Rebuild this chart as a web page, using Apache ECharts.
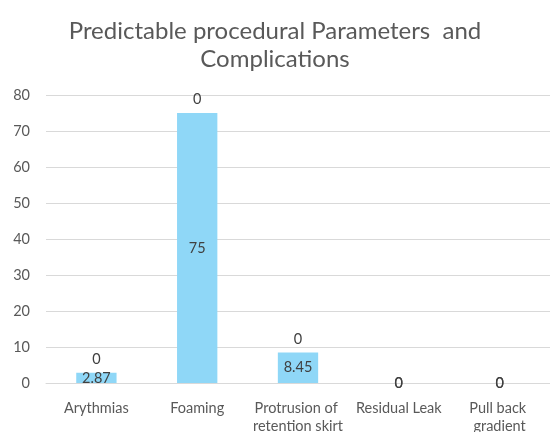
<!DOCTYPE html>
<html>
<head>
<meta charset="utf-8">
<script src="https://cdn.jsdelivr.net/npm/echarts@6/dist/echarts.min.js"></script>
<style>
  html, body { margin: 0; padding: 0; background: #fff; }
  #chart { width: 550px; height: 432px; }
</style>
</head>
<body>
<div id="chart"></div>
<script>
// data
const categories = ['Arythmias', 'Foaming', 'Protrusion of retention skirt', 'Residual Leak', 'Pull back gradient'];
const mainValues = [2.87, 75, 8.45, 0, 0];
const extraValues = [0, 0, 0, 0, 0];
const yTicks = [0, 10, 20, 30, 40, 50, 60, 70, 80];

const FONT = 'Lato, "Open Sans", sans-serif';
const TEXT = '#595959';
const LABEL = '#404040';

function renderChart() {
  const el = document.getElementById('chart');
  const chart = echarts.init(el);
  chart.setOption({
    animation: false,
    title: {
      text: 'Predictable procedural Parameters  and\nComplications',
      left: 'center',
      top: 12,
      textStyle: { fontFamily: FONT, fontSize: 24, fontWeight: 'normal', color: TEXT, lineHeight: 28 }
    },
    grid: { left: 46, right: 0, top: 95, bottom: 49, outerBoundsMode: 'none' },
    xAxis: {
      type: 'category',
      data: categories,
      axisTick: { show: false },
      axisLine: { lineStyle: { color: '#d9d9d9', width: 1 } },
      axisLabel: {
        interval: 0, fontFamily: FONT, fontSize: 14.5, color: TEXT,
        margin: 16, width: 100, overflow: 'break', lineHeight: 18
      }
    },
    yAxis: {
      type: 'value',
      min: yTicks[0],
      max: yTicks[yTicks.length - 1],
      interval: 10,
      axisLabel: { fontFamily: FONT, fontSize: 14.5, color: TEXT, margin: 16 },
      splitLine: { lineStyle: { color: '#d9d9d9', width: 1 } },
      axisLine: { show: false },
      axisTick: { show: false }
    },
    series: [
      {
        name: 'Value',
        type: 'bar',
        stack: 'a',
        barWidth: '40%',
        data: mainValues,
        itemStyle: { color: '#8fd7f7' },
        label: {
          show: true, position: 'inside', fontFamily: FONT, fontSize: 14.5, color: LABEL,
          formatter: p => String(p.value)
        }
      },
      {
        name: 'Extra',
        type: 'bar',
        stack: 'a',
        barWidth: '40%',
        data: extraValues.map((v, i) => mainValues[i] === 0
          ? { value: v, label: { position: 'inside' } }
          : v),
        itemStyle: { color: '#8fd7f7' },
        label: {
          show: true, position: 'top', distance: 6, fontFamily: FONT, fontSize: 14.5, color: LABEL,
          formatter: p => String(p.value)
        }
      }
    ]
  });
}

window.addEventListener('DOMContentLoaded', renderChart);
</script>
</body>
</html>
